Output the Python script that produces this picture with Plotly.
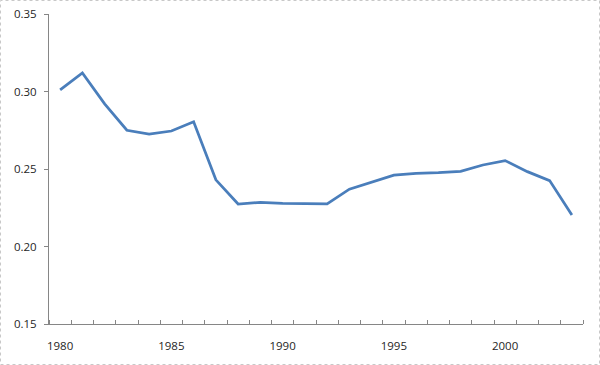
import plotly.graph_objects as go

years = list(range(1980, 2004))
values = [0.301, 0.312, 0.292, 0.275, 0.2725, 0.2745, 0.2805, 0.243, 0.2274, 0.2285,
          0.2278, 0.2276, 0.2275, 0.2370, 0.2415, 0.2460, 0.2472, 0.2476, 0.2485, 0.2526,
          0.2554, 0.2483, 0.2425, 0.2203]
x_tick_vals = [1980, 1985, 1990, 1995, 2000]
x_tick_text = ["1980", "1985", "1990", "1995", "2000"]
y_tick_vals = [0.15, 0.20, 0.25, 0.30, 0.35]

L, R, T, B = 49, 17, 14, 41
W, H = 600, 365
pw, ph = W - L - R, H - T - B

fig = go.Figure()
fig.add_trace(go.Scatter(x=years, y=values, mode="lines",
                         line=dict(color="#4A7EBB", width=2.75), hoverinfo="skip"))

axis_col = "#868686"
font = dict(family="Open Sans, Noto Sans, sans-serif", size=11.5, color="#262626")

fig.update_layout(
    width=W, height=H,
    margin=dict(l=L, r=R, t=T, b=B, autoexpand=False),
    paper_bgcolor="white", plot_bgcolor="white",
    showlegend=False,
    font=font,
    xaxis=dict(
        range=[1979.5, 2003.5], showgrid=False, zeroline=False, automargin=False,
        showline=True, linecolor=axis_col, linewidth=1,
        tickmode="array", tickvals=x_tick_vals, ticktext=x_tick_text,
        ticks="", ticklabelstandoff=11,
        minor=dict(tickmode="array", tickvals=[1979.5 + k for k in range(25)],
                   ticks="inside", ticklen=4, tickcolor=axis_col, showgrid=False),
        fixedrange=True,
    ),
    yaxis=dict(
        range=[0.15, 0.35], showgrid=False, zeroline=False, automargin=False,
        showline=True, linecolor=axis_col, linewidth=1,
        tickmode="array", tickvals=y_tick_vals, tickformat=".2f",
        ticks="outside", ticklen=4, tickcolor=axis_col, ticklabelstandoff=5,
        fixedrange=True,
    ),
    shapes=[dict(type="rect", xref="paper", yref="paper",
                 x0=(0.5 - L) / pw, x1=(W - 0.5 - L) / pw,
                 y0=(H - B - (H - 0.5)) / ph, y1=(H - B - 0.5) / ph,
                 line=dict(color="#C8C8C8", width=1, dash="dot"), layer="below")],
)

fig.write_html("out.html", config={"displayModeBar": False},
               post_script="document.body.style.margin='0';")
